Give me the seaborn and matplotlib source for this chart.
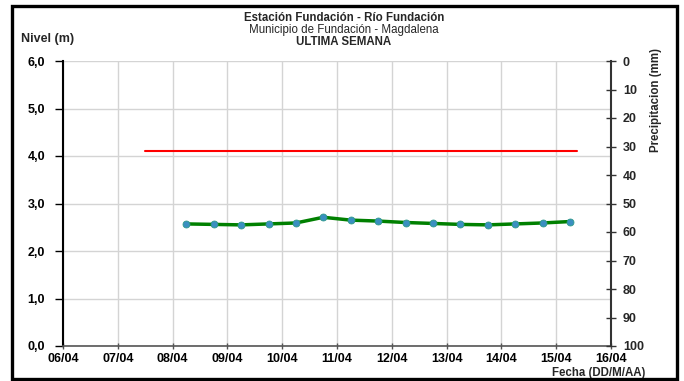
import matplotlib
matplotlib.use("Agg")
import matplotlib.pyplot as plt
import matplotlib.dates as mdates
import seaborn as sns
import pandas as pd
import numpy as np
from matplotlib.patches import Rectangle

sns.set_theme(style="white")
plt.rcParams['font.family'] = ['Liberation Sans', 'DejaVu Sans']

# ---- data ----
times = pd.date_range("2024-04-08 06:00", periods=15, freq="12h")
nivel = [2.57, 2.56, 2.55, 2.57, 2.59, 2.71, 2.65, 2.63, 2.60, 2.58, 2.56, 2.55, 2.57, 2.59, 2.62]
umbral_t = [pd.Timestamp("2024-04-07 12:00"), pd.Timestamp("2024-04-15 09:00")]
umbral_v = [4.1, 4.1]
xticks = pd.date_range("2024-04-06", "2024-04-16", freq="D")
yticks_left = [0, 1, 2, 3, 4, 5, 6]
yticks_right = list(range(0, 101, 10))

df = pd.DataFrame({"Fecha": times, "Nivel": nivel})
du = pd.DataFrame({"Fecha": umbral_t, "Nivel": umbral_v})

FS = 9
FT = 8.3
W, H = 684, 381
fig = plt.figure(figsize=(W / 100, H / 100), dpi=100)
fig.patch.set_facecolor("white")
L, R, T, B = 63, 611, 61, 346
ax = fig.add_axes([L / W, 1 - B / H, (R - L) / W, (B - T) / H])

sns.lineplot(data=du, x="Fecha", y="Nivel", ax=ax, color="#ff0000", linewidth=1.5)
sns.lineplot(data=df, x="Fecha", y="Nivel", ax=ax, color="#008000", linewidth=2.5,
             marker="o", markersize=5, markerfacecolor="#3a8fc0",
             markeredgecolor="#2e9a8a", markeredgewidth=0.6)

ax.set_xlim(xticks[0], xticks[-1])
ax.set_ylim(0, 6)
ax.set_xticks(xticks)
ax.xaxis.set_major_formatter(mdates.DateFormatter("%d/%m"))
ax.set_yticks(yticks_left)
ax.set_yticklabels([f"{v:.1f}".replace(".", ",") for v in yticks_left])
ax.grid(True, color="#d4d4d4", linewidth=1)
ax.set_axisbelow(True)
ax.set_xlabel("")
ax.set_ylabel("")
for lbl in ax.get_xticklabels() + ax.get_yticklabels():
    lbl.set_fontweight("bold")
    lbl.set_fontsize(FS)
    lbl.set_color("black")
ax.tick_params(axis="y", direction="out", length=6, width=1, color="black", pad=7, left=True)
ax.tick_params(axis="x", direction="inout", length=4, width=1, color="#555555", pad=3, bottom=True)
ax.spines["top"].set_visible(False)
ax.spines["right"].set_visible(False)
ax.spines["left"].set_color("black")
ax.spines["left"].set_linewidth(1.5)
ax.spines["bottom"].set_color("#555555")
ax.spines["bottom"].set_linewidth(1.2)

ax2 = ax.twinx()
ax2.set_ylim(100, 0)
ax2.set_yticks(yticks_right)
ax2.set_yticklabels([str(v) for v in yticks_right], fontweight="bold", fontsize=FS)
ax2.tick_params(axis="y", direction="inout", length=7, width=1, color="#333333", pad=5, right=True)
ax2.grid(False)
for s in ["top", "left", "bottom"]:
    ax2.spines[s].set_visible(False)
ax2.spines["right"].set_color("#333333")
ax2.spines["right"].set_linewidth(1.5)
ax2.set_ylabel("")

fig.text(656 / W, 1 - 100 / H, "Precipitacion (mm)", rotation=90, ha="center", va="center",
         fontsize=FT, fontweight="bold")

# titles
cx = 344 / W
fig.text(cx, 1 - 18 / H, "Estación Fundación - Río Fundación", ha="center", va="center",
         fontsize=FT, fontweight="bold")
fig.text(cx, 1 - 30 / H, "Municipio de Fundación - Magdalena", ha="center", va="center",
         fontsize=FT)
fig.text(cx, 1 - 42 / H, "ULTIMA SEMANA", ha="center", va="center",
         fontsize=FT, fontweight="bold")
fig.text(21 / W, 1 - 39 / H, "Nivel (m)", ha="left", va="center", fontsize=FS, fontweight="bold")
fig.text(645 / W, 1 - 373 / H, "Fecha (DD/M/AA)", ha="right", va="center", fontsize=FT,
         fontweight="bold")

# frame
fig.patches.append(Rectangle((12 / W, 1 - 379 / H), (677 - 12) / W, (379 - 6) / H,
                             transform=fig.transFigure, facecolor="none",
                             edgecolor="black", linewidth=2.4, zorder=11))

fig.savefig("out.png", dpi=100)
